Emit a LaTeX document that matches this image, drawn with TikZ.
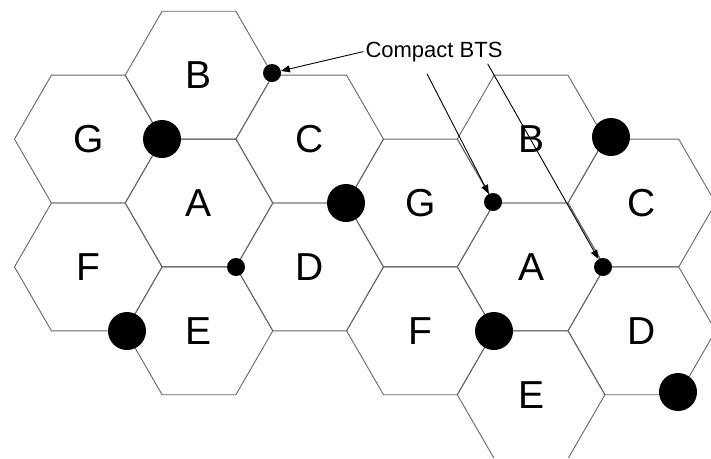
\documentclass[tikz,border=0pt]{standalone}
\usepackage{fontspec}
\setmainfont{Liberation Sans}
\usepackage{tikz}
\usetikzlibrary{arrows.meta,shapes.geometric,calc}
\definecolor{cedge}{HTML}{666666}
\tikzset{
  cell/.style={regular polygon, regular polygon sides=6, draw=cedge, line width=0.9pt, minimum size=147.6pt, inner sep=0pt, outer sep=0pt, font=\fontsize{39}{39}\selectfont},
  bigbts/.style={circle, fill=black, inner sep=0pt, minimum size=38pt},
  smallbts/.style={circle, fill=black, inner sep=0pt, minimum size=18pt},
  pointer/.style={-{Triangle[length=9pt,width=7pt]}, line width=0.9pt},
  note/.style={font=\fontsize{22}{22}\selectfont, inner sep=2pt},
}

\begin{document}
\begin{tikzpicture}[x=1pt,y=-1pt]
\useasboundingbox (0,0) rectangle (711,458);
\clip (0,0) rectangle (711,457);
% left cluster
\foreach \n/\x/\y in {A/199/203, B/199/75.2, E/199/330.8, G/88.3/139.1, F/88.3/266.9, C/309.7/139.1, D/309.7/266.9}
  \node[cell] (\n1) at (\x,\y) {\n};
% right cluster
\foreach \n/\x/\y in {A/531.1/266.9, B/531.1/139.1, E/531.1/394.7, G/420.4/203, F/420.4/330.8, C/641.8/203, D/641.8/330.8}
  \node[cell] (\n2) at (\x,\y) {\n};
% base stations
\node[smallbts] (cb1) at (272,73) {};
\node[smallbts] (cb2) at (236,267) {};
\node[smallbts] (cb3) at (493,202) {};
\node[smallbts] (cb4) at (603,267) {};
\node[bigbts] (bb1) at (162,139) {};
\node[bigbts] (bb2) at (346,203) {};
\node[bigbts] (bb3) at (127,331) {};
\node[bigbts] (bb4) at (611,137) {};
\node[bigbts] (bb5) at (494,331) {};
\node[bigbts] (bb6) at (678,392) {};
% callout
\node[note, anchor=base] (compact) at (434,57) {Compact BTS};
\draw[pointer] (compact.west) -- (cb1);
\draw[pointer] ($(compact.south)+(-7,10)$) -- (cb3);
\draw[pointer] ($(compact.south east)+(-17,0)$) -- (cb4);
\end{tikzpicture}
\end{document}
